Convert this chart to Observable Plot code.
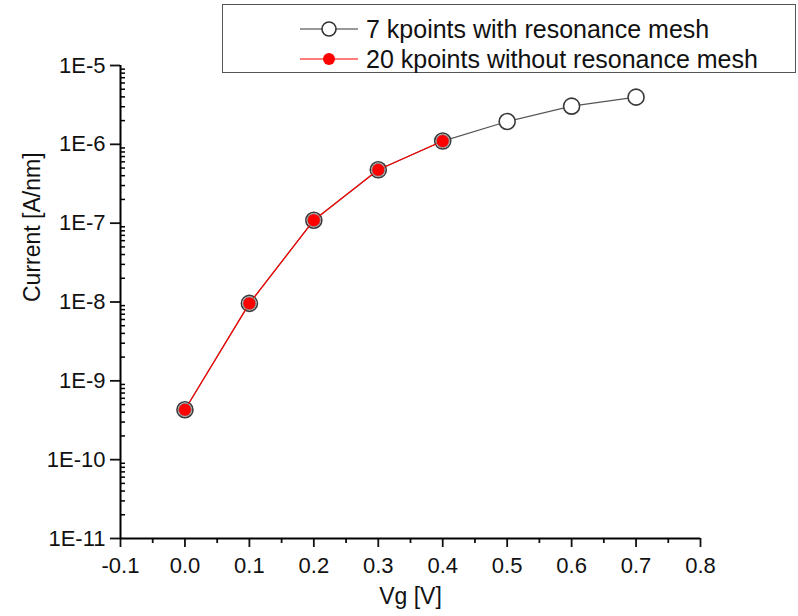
<!DOCTYPE html>
<html>
<head>
<meta charset="utf-8">
<script src="https://cdn.jsdelivr.net/npm/d3@7"></script>
<script src="https://cdn.jsdelivr.net/npm/@observablehq/plot@0.6"></script>
<style>
  html, body { margin: 0; padding: 0; background: #fff; }
  #wrap { position: relative; width: 798px; height: 616px; font-family: "Liberation Sans", Arial, sans-serif; }
  #legend { position: absolute; left: 222px; top: 4px; width: 574px; height: 69px; border: 1px solid #555; box-sizing: border-box; background: #fff; }
  .row { position: absolute; left: 0; height: 30px; display: flex; align-items: center; }
  .row svg { margin-left: 77px; }
  .row span { margin-left: 8px; font-size: 25px; color: #111; white-space: nowrap; }
</style>
</head>
<body>
<div id="wrap"></div>
<script>
// ---- data ----
const vg7 = [0.0, 0.1, 0.2, 0.3, 0.4, 0.5, 0.6, 0.7];
const current7 = [4.3e-10, 9.6e-9, 1.09e-7, 4.75e-7, 1.1e-6, 1.95e-6, 3.05e-6, 3.97e-6];
const vg20 = [0.0, 0.1, 0.2, 0.3, 0.4];
const current20 = [4.3e-10, 9.6e-9, 1.09e-7, 4.75e-7, 1.1e-6];
const seriesNames = ["7 kpoints with resonance mesh", "20 kpoints without resonance mesh"];
const xTicks = [-0.1, 0.0, 0.1, 0.2, 0.3, 0.4, 0.5, 0.6, 0.7, 0.8];
const xMinorTicks = [-0.05, 0.05, 0.15, 0.25, 0.35, 0.45, 0.55, 0.65, 0.75];
const yTicks = [1e-11, 1e-10, 1e-9, 1e-8, 1e-7, 1e-6, 1e-5];
const yMinorMult = [2, 3, 4, 5, 6, 7, 8, 9];
const xLabel = "Vg [V]";
const yLabel = "Current [A/nm]";

const yMinorTicks = [];
for (let i = 0; i < yTicks.length - 1; i++) for (const m of yMinorMult) yMinorTicks.push(m * yTicks[i]);

const data7 = vg7.map((x, i) => ({x, y: current7[i]}));
const data20 = vg20.map((x, i) => ({x, y: current20[i]}));

const xMin = xTicks[0], xMax = xTicks[xTicks.length - 1], yMin = yTicks[0];
const minorLen = (xMax - xMin) * 5 / 580; // ~5px inward

const font = "Liberation Sans, Arial, sans-serif";
const chart = Plot.plot({
  width: 798,
  height: 616,
  marginLeft: 120,
  marginRight: 98,
  marginTop: 65,
  marginBottom: 78,
  style: {fontFamily: font, color: "#111", background: "#fff", overflow: "visible"},
  x: {domain: [xMin, xMax]},
  y: {type: "log", domain: [yTicks[0], yTicks[yTicks.length - 1]]},
  marks: [
    Plot.axisX(xTicks, {tickSize: 9, tickPadding: 10, fontSize: 22, strokeWidth: 1.8, tickFormat: d => d.toFixed(1), label: null}),
    Plot.axisX(xMinorTicks, {tickSize: 5, strokeWidth: 1.8, tickFormat: () => "", label: null}),
    Plot.axisY(yTicks, {tickSize: 10, tickPadding: 5, fontSize: 22, strokeWidth: 1.8, tickFormat: d => "1E" + Math.round(Math.log10(d)), label: null}),
    Plot.ruleY(yMinorTicks, {x1: xMin, x2: xMin + minorLen, stroke: "#000", strokeWidth: 1.5}),
    Plot.ruleX([xMin], {stroke: "#000", strokeWidth: 2}),
    Plot.ruleY([yMin], {stroke: "#000", strokeWidth: 2}),
    Plot.text([yLabel], {frameAnchor: "left", dx: -88, rotate: -90, fontSize: 23, fill: "#111"}),
    Plot.text([xLabel], {frameAnchor: "bottom", dy: 65, fontSize: 23, fill: "#111"}),
    Plot.line(data7, {x: "x", y: "y", stroke: "#555", strokeWidth: 1.2}),
    Plot.dot(data7, {x: "x", y: "y", r: 8, fill: "#fff", stroke: "#3a3a3a", strokeWidth: 1.6}),
    Plot.line(data20, {x: "x", y: "y", stroke: "#ff0000", strokeWidth: 1.2}),
    Plot.dot(data20, {x: "x", y: "y", r: 6.5, fill: "#ff0000", stroke: "#8a8a8a", strokeWidth: 1})
  ]
});
const wrap = document.getElementById("wrap");
wrap.appendChild(chart);

// legend
const legend = document.createElement("div");
legend.id = "legend";
const styles = [
  {line: "#777", fill: "#fff", stroke: "#333", r: 7},
  {line: "#ff5050", fill: "#ff0000", stroke: "none", r: 6}
];
seriesNames.forEach((name, i) => {
  const row = document.createElement("div");
  row.className = "row";
  row.style.top = (i === 0 ? 9 : 39) + "px";
  const s = styles[i];
  row.innerHTML = `<svg width="58" height="20"><line x1="0" x2="58" y1="10" y2="10" stroke="${s.line}" stroke-width="1.3"/><circle cx="29" cy="10" r="${s.r}" fill="${s.fill}" stroke="${s.stroke}" stroke-width="1.6"/></svg><span>${name}</span>`;
  legend.appendChild(row);
});
wrap.appendChild(legend);
</script>
</body>
</html>
